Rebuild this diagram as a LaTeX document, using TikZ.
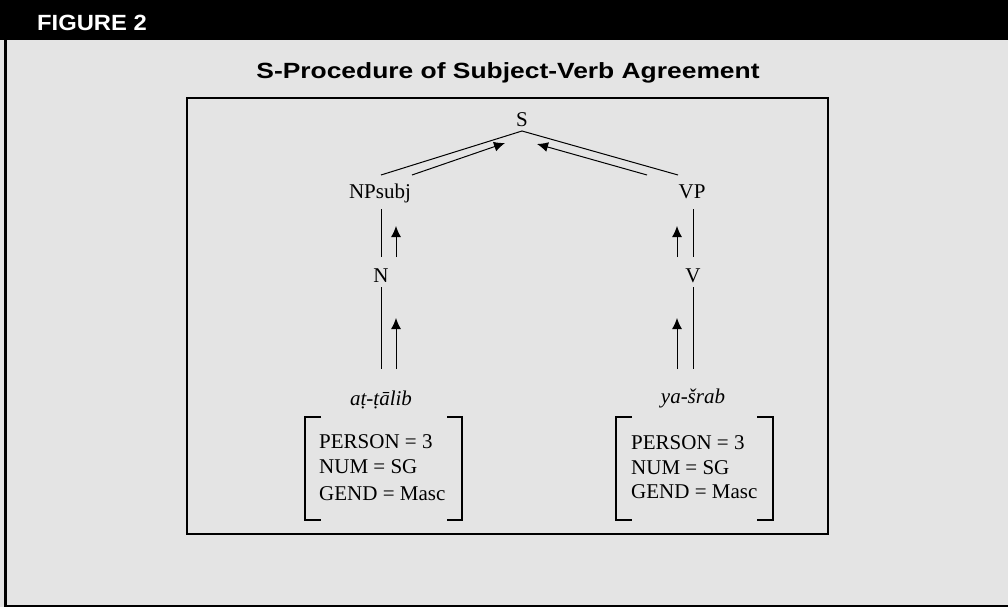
\documentclass[tikz,border=0pt]{standalone}
\usepackage{fontspec}
\usepackage{graphicx}
\setmainfont{Liberation Serif}
\newfontfamily\hvfont{Liberation Sans}
\usetikzlibrary{arrows.meta}
\definecolor{bgray}{HTML}{E4E4E4}
\begin{document}
\begin{tikzpicture}[x=1pt,y=-1pt,
  lbl/.style={inner sep=0pt,anchor=base,font=\fontsize{21}{25}\selectfont},
  feat/.style={inner sep=0pt,anchor=base west,font=\fontsize{21}{25}\selectfont},
  edge/.style={line width=1pt},
  up/.style={line width=1pt,-{Latex[length=11pt,width=10pt]}},
  brk/.style={line width=1.2pt},
  frame/.style={line width=1.4pt}]
\useasboundingbox (0,0) rectangle (1008,607);
\fill[bgray] (0,0) rectangle (1008,607);
\fill[black] (0,0) rectangle (1008,40);
\fill[black] (3.5,40) rectangle (6.5,607);
\fill[black] (3.5,604.5) rectangle (1008,607);
\node[inner sep=0pt,anchor=base west,text=white,font=\hvfont\bfseries\fontsize{22}{26}\selectfont] (fig) at (37,31) {\scalebox{1.08}[1]{FIGURE 2}};
\node[inner sep=0pt,anchor=base,font=\hvfont\bfseries\fontsize{22}{26}\selectfont] (title) at (508,79) {\scalebox{1.2}[1]{S-Procedure of Subject-Verb Agreement}};
\draw[frame] (187,98) rectangle (828,534);
% tree labels
\node[lbl] (S) at (522,127) {S};
\node[lbl] (NP) at (380,198) {NPsubj};
\node[lbl] (VP) at (692,198) {VP};
\node[lbl] (N) at (381,282) {N};
\node[lbl] (V) at (693,282) {V};
\node[lbl,font=\itshape\fontsize{21}{25}\selectfont] (w1) at (381,405) {aṭ-ṭālib};
\node[lbl,font=\itshape\fontsize{21}{25}\selectfont] (w2) at (693,403) {ya-šrab};
% coordinates
\coordinate (Sb) at (522,131);
\coordinate (lA) at (381,175);
\coordinate (lB1) at (412,175);
\coordinate (lB2) at (505,143);
\coordinate (rA) at (678,175);
\coordinate (rB1) at (647,175);
\coordinate (rB2) at (537,144);
\draw[edge] (lA) -- (Sb) -- (rA);
\draw[up] (lB1) -- (lB2);
\draw[up] (rB1) -- (rB2);
% left column
\coordinate (l1t) at (381,209); \coordinate (l1b) at (381,257);
\coordinate (l2t) at (381,287); \coordinate (l2b) at (381,369);
\coordinate (la1b) at (396,257); \coordinate (la1t) at (396,226);
\coordinate (la2b) at (396,369); \coordinate (la2t) at (396,318);
\draw[edge] (l1t) -- (l1b);
\draw[edge] (l2t) -- (l2b);
\draw[up] (la1b) -- (la1t);
\draw[up] (la2b) -- (la2t);
% right column
\coordinate (r1t) at (693,209); \coordinate (r1b) at (693,257);
\coordinate (r2t) at (693,287); \coordinate (r2b) at (693,369);
\coordinate (ra1b) at (677,257); \coordinate (ra1t) at (677,226);
\coordinate (ra2b) at (677,369); \coordinate (ra2t) at (677,318);
\draw[edge] (r1t) -- (r1b);
\draw[edge] (r2t) -- (r2b);
\draw[up] (ra1b) -- (ra1t);
\draw[up] (ra2b) -- (ra2t);
% brackets
\draw[brk] (321,417) -- (305,417) -- (305,520) -- (321,520);
\draw[brk] (447,417) -- (462,417) -- (462,520) -- (447,520);
\draw[brk] (632,417) -- (616,417) -- (616,520) -- (632,520);
\draw[brk] (757,417) -- (773,417) -- (773,520) -- (757,520);
% features
\node[feat] (p1) at (319,448) {PERSON = 3};
\node[feat] (n1) at (319,473) {NUM = SG};
\node[feat] (g1) at (319,500) {GEND = Masc};
\node[feat] (p2) at (631,449) {PERSON = 3};
\node[feat] (n2) at (631,474) {NUM = SG};
\node[feat] (g2) at (631,498) {GEND = Masc};
\end{tikzpicture}
\end{document}
